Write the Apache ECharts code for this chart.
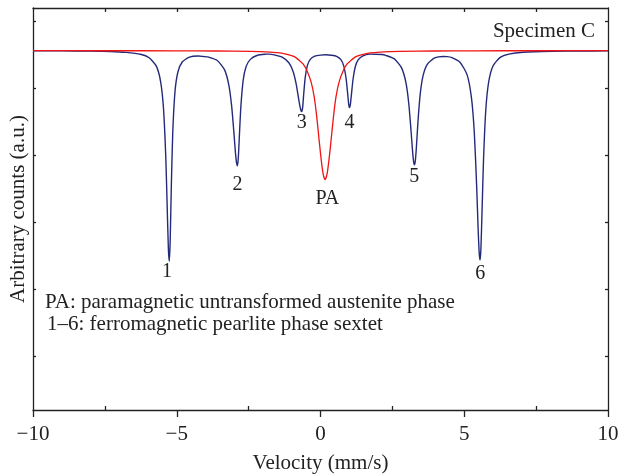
<!DOCTYPE html>
<html>
<head>
<meta charset="utf-8">
<title>Specimen C</title>
<script src="https://cdn.jsdelivr.net/npm/echarts@6.0.0/dist/echarts.min.js"></script>
<style>
  html, body { margin: 0; padding: 0; background: #fff; }
  #chart { width: 619px; height: 474px; }
</style>
</head>
<body>
<div id="chart"></div>
<script>
// sextet (blue), velocity in mm/s, counts in a.u.
var blueVelocity = [-10, -9, -8, -7.3, -6.76, -6.26, -5.96, -5.71, -5.56, -5.46,
  -5.38, -5.33, -5.29, -5.26, -5.23, -5.19, -5.14, -5.06, -4.96, -4.81,
  -4.56, -4.26, -4.075, -3.89, -3.59, -3.34, -3.19, -3.09, -3.01, -2.96,
  -2.92, -2.89, -2.86, -2.82, -2.77, -2.69, -2.59, -2.44, -2.19, -1.89,
  -1.77, -1.65, -1.35, -1.1, -0.95, -0.85, -0.77, -0.72, -0.68, -0.65,
  -0.62, -0.58, -0.53, -0.45, -0.35, -0.2, 0, 0.18, 0.38, 0.56,
  0.71, 0.81, 0.89, 0.94, 0.98, 1.01, 1.04, 1.08, 1.13, 1.21,
  1.31, 1.46, 1.71, 2.14, 2.27, 2.57, 2.82, 2.97, 3.07, 3.15,
  3.2, 3.24, 3.27, 3.3, 3.34, 3.39, 3.47, 3.57, 3.72, 3.97,
  4.27, 4.41, 4.55, 4.85, 5.1, 5.25, 5.35, 5.43, 5.48, 5.52,
  5.55, 5.58, 5.62, 5.67, 5.75, 5.85, 6, 6.25, 6.55, 7.05,
  8.05, 9, 10];
var blueCounts = [999.8, 999.8, 999.6, 999.2, 998.3, 996.4, 992.9, 984.5, 968.9, 941.8,
  892.1, 841.1, 801.2, 789.3, 808, 862.5, 917.4, 959.4, 978.7, 988.7,
  993.6, 994.7, 994.2, 993.6, 990.2, 981, 965.8, 944.5, 917.3, 898.5,
  887.7, 884.9, 892.2, 915.7, 944, 970.3, 983.9, 991.3, 995.4, 996.5,
  996.6, 996.1, 993.8, 987.9, 979, 967.2, 953.6, 945, 940.2, 939,
  943.5, 958.1, 973.5, 985.8, 991.6, 994.5, 995.6, 995.9, 995.4, 994.4,
  991, 984.6, 972.3, 958.5, 946.6, 943, 946.5, 957.3, 970.9, 983.9,
  990.7, 994.6, 996.6, 996.2, 995.3, 991.8, 982.8, 968.2, 947.2, 919.6,
  900.3, 888.7, 885.8, 890.1, 905.4, 928.9, 957, 975.3, 986.6, 992.7,
  994.2, 994, 993.2, 988.5, 975.8, 953, 917.9, 865.7, 824.1, 797.6,
  790.5, 802, 840.6, 890.9, 940.9, 968.7, 984.7, 993.3, 996.6, 998.5,
  999.5, 999.7, 999.8];

// paramagnetic austenite singlet (red)
var redVelocity = [-10, -7.5, -5.05, -3.66, -2.45, -1.75, -1.4, -1.06, -0.88, -0.71,
  -0.6, -0.47, -0.33, -0.22, -0.135, -0.05, 0.02, 0.09, 0.16, 0.23,
  0.3, 0.37, 0.455, 0.54, 0.65, 0.79, 0.92, 1.03, 1.2, 1.38,
  1.72, 2.07, 2.77, 3.98, 5.38, 7.5, 10];
var redCounts = [1000, 999.95, 999.85, 999.7, 999.3, 998.6, 997.7, 995.5, 993.5, 989.5,
  986.5, 980, 969, 954, 935, 911, 892, 877, 871, 877,
  892, 911, 935, 954, 969, 980, 986.5, 989.5, 993.5, 995.5,
  997.7, 998.6, 999.3, 999.7, 999.85, 999.95, 1000];

// peak labels
var peakNames = ['1', '2', '3', 'PA', '4', '5', '6'];
var peakLabelVelocity = [-5.34, -2.89, -0.65, 0.24, 1.01, 3.26, 5.56];
var peakLabelCounts = [779, 866, 928, 852, 928, 874, 777];

// ticks
var xMinorTicks = [-7.5, -2.5, 2.5, 7.5];
var xTopTicks = [-7.5, -5, -2.5, 0, 2.5, 5, 7.5];
var yTicks = [694.3, 761.3, 828.3, 895.3, 962.3, 1029.3];

var serif = "'Liberation Serif', 'DejaVu Serif', serif";
var ink = '#222';
var axisLine = { color: '#222', width: 1.3 };

function zip(xs, ys) {
  return xs.map(function (x, i) { return [x, ys[i]]; });
}

var chart = echarts.init(document.getElementById('chart'));

var option = {
  animation: false,
  backgroundColor: '#fff',
  grid: { left: 33, right: 11, top: 8, bottom: 64, outerBoundsMode: 'none', containLabel: false },
  xAxis: [
    {
      type: 'value', min: -10, max: 10, interval: 5, position: 'bottom',
      axisLine: { show: true, onZero: false, lineStyle: axisLine },
      axisTick: { show: true, inside: false, length: 7, lineStyle: axisLine },
      axisLabel: {
        fontFamily: serif, fontSize: 21, color: ink, margin: 14,
        formatter: function (v) { return String(v).replace('-', '\u2212'); }
      },
      splitLine: { show: false },
      name: 'Velocity (mm/s)', nameLocation: 'middle', nameGap: 43,
      nameTextStyle: { fontFamily: serif, fontSize: 21, color: ink }
    },
    {
      type: 'value', min: -10, max: 10, position: 'bottom',
      axisLine: { show: false, onZero: false },
      axisTick: { show: true, inside: true, length: 4, customValues: xMinorTicks, lineStyle: axisLine },
      axisLabel: { show: false },
      splitLine: { show: false }
    },
    {
      type: 'value', min: -10, max: 10, position: 'top',
      axisLine: { show: true, onZero: false, lineStyle: axisLine },
      axisTick: { show: true, inside: true, length: 4, customValues: xTopTicks, lineStyle: axisLine },
      axisLabel: { show: false },
      splitLine: { show: false }
    }
  ],
  yAxis: [
    {
      type: 'value', min: 640.5, max: 1042.7, position: 'left',
      axisLine: { show: true, onZero: false, lineStyle: axisLine },
      axisTick: { show: true, inside: true, length: 3, customValues: yTicks, lineStyle: axisLine },
      axisLabel: { show: false },
      splitLine: { show: false },
      name: 'Arbitrary counts (a.u.)', nameLocation: 'middle', nameGap: 4,
      nameTextStyle: { fontFamily: serif, fontSize: 21, color: ink }
    },
    {
      type: 'value', min: 640.5, max: 1042.7, position: 'right',
      axisLine: { show: true, onZero: false, lineStyle: axisLine },
      axisTick: { show: true, inside: true, length: 3, customValues: yTicks, lineStyle: axisLine },
      axisLabel: { show: false },
      splitLine: { show: false }
    }
  ],
  graphic: [
    {
      type: 'text', right: 24, top: 21,
      style: { text: 'Specimen C', font: '21px ' + serif, fill: ink }
    },
    {
      type: 'text', left: 45, top: 292,
      style: { text: 'PA: paramagnetic untransformed austenite phase', font: '21px ' + serif, fill: ink }
    },
    {
      type: 'text', left: 47, top: 314,
      style: { text: '1\u20136: ferromagnetic pearlite phase sextet', font: '21px ' + serif, fill: ink }
    }
  ],
  series: [
    {
      name: 'Sextet', type: 'line', xAxisIndex: 0, yAxisIndex: 0,
      data: zip(blueVelocity, blueCounts),
      showSymbol: false, smooth: 0.2,
      lineStyle: { color: '#242a7a', width: 1.4 }
    },
    {
      name: 'PA', type: 'line', xAxisIndex: 0, yAxisIndex: 0,
      data: zip(redVelocity, redCounts),
      showSymbol: false, smooth: 0.2,
      lineStyle: { color: '#f01414', width: 1.3 }
    },
    {
      name: 'labels', type: 'scatter', xAxisIndex: 0, yAxisIndex: 0,
      symbolSize: 0, silent: true,
      itemStyle: { opacity: 1 },
      data: peakNames.map(function (n, i) { return [peakLabelVelocity[i], peakLabelCounts[i], n]; }),
      label: {
        show: true, position: 'inside',
        formatter: function (p) { return p.data[2]; },
        fontFamily: serif, fontSize: 20, color: ink,
        textBorderWidth: 0, textBorderColor: 'transparent'
      }
    }
  ]
};

chart.setOption(option);
</script>
</body>
</html>
